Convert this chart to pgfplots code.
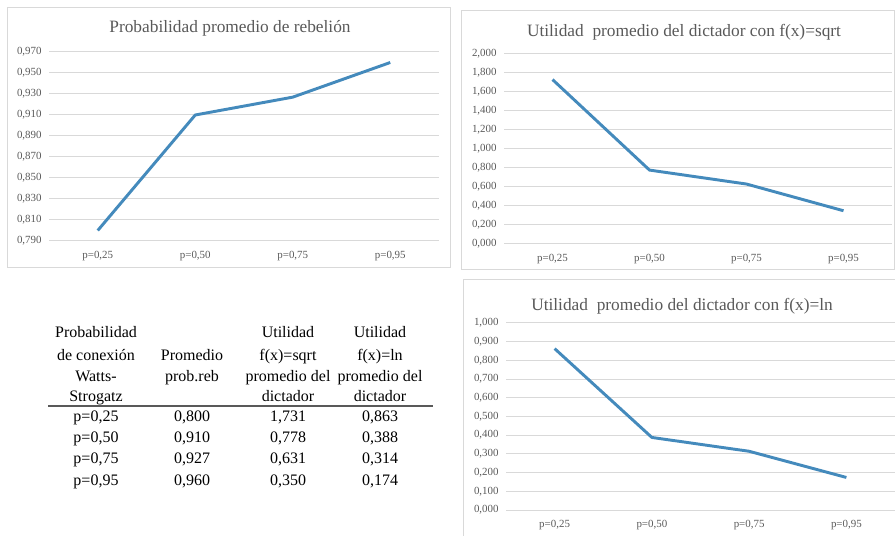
\documentclass[border=0pt]{standalone}
\usepackage{fontspec}
\setmainfont{Liberation Serif}
\usepackage{pgfplots}
\pgfplotsset{compat=1.18}
\definecolor{lineBlue}{RGB}{68,138,188}
\definecolor{txtGray}{RGB}{89,89,89}
\definecolor{gridGray}{RGB}{217,217,217}
\def\u{0.75pt}
\pgfplotsset{excel/.style={
    scale only axis, anchor=south west, clip=false,
    xmin=-0.5, xmax=3.5, xtick={0,1,2,3},
    xticklabels={{p=0,25},{p=0,50},{p=0,75},{p=0,95}},
    axis line style={draw=none}, major tick length=0pt,
    ymajorgrids, grid style={gridGray, line width=0.75pt},
    tick label style={font=\fontsize{8.2}{9}\selectfont, text=txtGray},
    xticklabel style={yshift=-4.5pt}, yticklabel style={xshift=-2pt},
    /pgf/number format/.cd, fixed, fixed zerofill, precision=3, use comma, assume math mode=true, /tikz/.cd},
  serie/.style={lineBlue, line width=2.2pt, line join=round, no markers}}
\begin{document}
\begin{tikzpicture}
\useasboundingbox (0,0) rectangle (895*\u,535*\u);
% frames
\draw[gridGray, line width=0.75pt] (7*\u,267*\u) rectangle (450*\u,527*\u);
\draw[gridGray, line width=0.75pt] (461*\u,265*\u) rectangle (894*\u,524*\u);
\draw[gridGray, line width=0.75pt] (463*\u,-5*\u) rectangle (900*\u,255*\u);
% titles
\tikzset{ttl/.style={font=\fontsize{13}{15}\selectfont, text=txtGray}}
\node[ttl] at (230*\u,507*\u) {Probabilidad promedio de rebelión};
\node[ttl] at (684*\u,503*\u) {Utilidad\ \ promedio del dictador con f(x)=sqrt};
\node[ttl] at (682*\u,229*\u) {Utilidad\ \ promedio del dictador con f(x)=ln};

\begin{axis}[excel, at={(49*\u,294*\u)}, width=390*\u, height=189*\u,
    ymin=0.79, ymax=0.97, ytick={0.79,0.81,0.83,0.85,0.87,0.89,0.91,0.93,0.95,0.97}]
\addplot[serie] coordinates {(0,0.800)(1,0.910)(2,0.927)(3,0.960)};
\end{axis}

\begin{axis}[excel, at={(504*\u,291*\u)}, width=388*\u, height=190*\u,
    ymin=0, ymax=2, ytick={0,0.2,0.4,0.6,0.8,1,1.2,1.4,1.6,1.8,2}]
\addplot[serie] coordinates {(0,1.731)(1,0.778)(2,0.631)(3,0.350)};
\end{axis}

\begin{axis}[excel, at={(506*\u,25*\u)}, width=389*\u, height=187*\u,
    ymin=0, ymax=1, ytick={0,0.1,0.2,0.3,0.4,0.5,0.6,0.7,0.8,0.9,1}]
\addplot[serie] coordinates {(0,0.863)(1,0.388)(2,0.314)(3,0.174)};
\end{axis}

% table
\tikzset{tb/.style={font=\fontsize{12}{14}\selectfont, anchor=base, inner sep=0pt}}
\foreach \yy/\txt in {333/Probabilidad, 356/de conexión, 377/Watts-, 397/Strogatz}
  \node[tb] at (96*\u,{(530-\yy)*\u}) {\txt};
\foreach \yy/\txt in {356/Promedio, 377/prob.reb}
  \node[tb] at (192*\u,{(530-\yy)*\u}) {\txt};
\foreach \yy/\txt in {333/Utilidad, 356/f(x)=sqrt, 377/promedio del, 397/dictador}
  \node[tb] at (288*\u,{(530-\yy)*\u}) {\txt};
\foreach \yy/\txt in {333/Utilidad, 356/f(x)=ln, 377/promedio del, 397/dictador}
  \node[tb] at (380*\u,{(530-\yy)*\u}) {\txt};
\draw[black!65, line width=1.1pt] (48*\u,129*\u) -- (433*\u,129*\u);
\foreach \yy/\a/\b/\c/\d in {417/{p=0,25}/{0,800}/{1,731}/{0,863},
                             438/{p=0,50}/{0,910}/{0,778}/{0,388},
                             459/{p=0,75}/{0,927}/{0,631}/{0,314},
                             480/{p=0,95}/{0,960}/{0,350}/{0,174}} {
  \node[tb] at (96*\u,{(530-\yy)*\u}) {\a};
  \node[tb] at (192*\u,{(530-\yy)*\u}) {\b};
  \node[tb] at (288*\u,{(530-\yy)*\u}) {\c};
  \node[tb] at (380*\u,{(530-\yy)*\u}) {\d};
}
\end{tikzpicture}
\end{document}
